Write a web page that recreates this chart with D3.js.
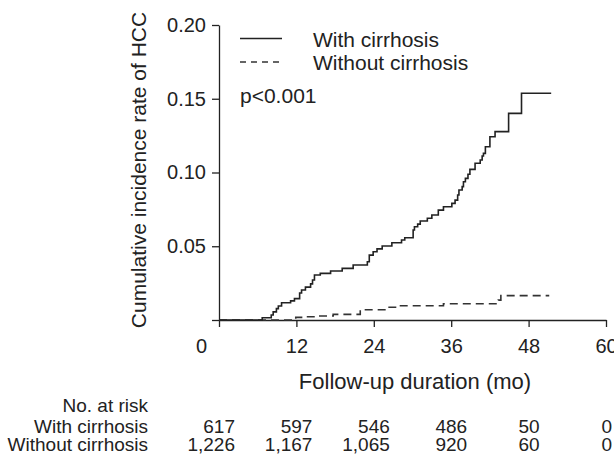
<!DOCTYPE html>
<html>
<head>
<meta charset="utf-8">
<script src="https://cdn.jsdelivr.net/npm/d3@7"></script>
<style>
  body { margin: 0; background: #fff; }
  svg { display: block; font-family: "Liberation Sans", Arial, sans-serif; }
</style>
</head>
<body>
<script>
// step points [month, cumulative incidence after the step]
var withCirrhosis = [
  [0, 0], [6.7, 0.0015], [8.1, 0.0034], [8.4, 0.0055], [8.9, 0.0077], [9.2, 0.0095],
  [9.7, 0.0117], [11.1, 0.013], [11.7, 0.0145], [12.5, 0.0183], [12.8, 0.0203],
  [13.4, 0.0223], [14.2, 0.0245], [14.5, 0.0271], [14.8, 0.0305], [15.7, 0.0316],
  [17.3, 0.0332], [19.1, 0.035], [20.8, 0.0373], [23.0, 0.0395], [23.3, 0.044],
  [23.9, 0.0463], [24.5, 0.0482], [25.3, 0.0502], [26.8, 0.0524], [28.3, 0.0542],
  [28.8, 0.0558], [30.1, 0.061], [30.3, 0.0632], [30.8, 0.065], [31.2, 0.0671],
  [32.3, 0.069], [33.0, 0.0712], [34.0, 0.0745], [34.8, 0.0768], [36.1, 0.0791],
  [36.6, 0.0813], [37.0, 0.0847], [37.2, 0.0881], [37.7, 0.0904], [37.9, 0.0937],
  [38.2, 0.096], [38.6, 0.0988], [38.9, 0.1021], [39.7, 0.1063], [40.5, 0.1085],
  [40.8, 0.1112], [41.0, 0.113], [41.3, 0.1175], [42.0, 0.1242], [42.8, 0.1277],
  [44.9, 0.1401], [46.9, 0.1537], [51.5, 0.1537]
];
var withoutCirrhosis = [
  [0, 0], [11.9, 0.0018], [13.3, 0.0022], [15.2, 0.0027], [17.7, 0.0038],
  [21.9, 0.007], [26.1, 0.0086], [28.0, 0.0097], [34.8, 0.011], [43.3, 0.0135],
  [43.7, 0.0165], [51.2, 0.0165]
];

var xTicks = [0, 12, 24, 36, 48, 60];
var yTicks = [0, 0.05, 0.10, 0.15, 0.20];
var riskLabels = ['With cirrhosis', 'Without cirrhosis'];
var riskWith = [617, 597, 546, 486, 50, 0];
var riskWithout = [1226, 1167, 1065, 920, 60, 0];

var width = 614, height = 454;

var svg = d3.select('body')
  .append('svg')
  .attr('width', width)
  .attr('height', height);

var x = d3.scaleLinear().domain([0, 60]).range([219, 606]);
var y = d3.scaleLinear().domain([0, 0.2]).range([320, 25]);

// axes
var xAxis = svg.append('g')
  .attr('transform', 'translate(0,' + y(0) + ')')
  .call(d3.axisBottom(x).tickValues(xTicks).tickSize(7).tickSizeOuter(0).tickPadding(12));

var yAxis = svg.append('g')
  .attr('transform', 'translate(' + x(0) + ',0)')
  .call(d3.axisLeft(y).tickValues(yTicks).tickSize(7).tickSizeOuter(0).tickPadding(6)
    .tickFormat(function(d) { return d === 0 ? '' : d3.format('.2f')(d); }));

[xAxis, yAxis].forEach(function(g) {
  g.selectAll('path, line').attr('stroke', '#222').attr('stroke-width', 1.3);
  g.selectAll('text')
    .attr('fill', '#222')
    .attr('font-size', '20px')
    .attr('font-family', '"Liberation Sans", Arial, sans-serif');
});

// the "0" sits left of the origin
xAxis.selectAll('.tick')
  .filter(function(d) { return d === 0; })
  .select('text')
  .attr('x', -18);

// curves
var line = d3.line()
  .x(function(d) { return x(d[0]); })
  .y(function(d) { return y(d[1]); })
  .curve(d3.curveStepAfter);

svg.append('path')
  .datum(withoutCirrhosis)
  .attr('d', line)
  .attr('fill', 'none')
  .attr('stroke', '#333')
  .attr('stroke-width', 1.6)
  .attr('stroke-dasharray', '8,5');

svg.append('path')
  .datum(withCirrhosis)
  .attr('d', line)
  .attr('fill', 'none')
  .attr('stroke', '#222')
  .attr('stroke-width', 1.6);

// legend
svg.append('line')
  .attr('x1', 240).attr('x2', 282)
  .attr('y1', 38.5).attr('y2', 38.5)
  .attr('stroke', '#222').attr('stroke-width', 1.4);

svg.append('line')
  .attr('x1', 240).attr('x2', 282)
  .attr('y1', 62).attr('y2', 62)
  .attr('stroke', '#333').attr('stroke-width', 1.4)
  .attr('stroke-dasharray', '6,5');

svg.selectAll('.legend-text')
  .data(riskLabels)
  .enter()
  .append('text')
  .attr('class', 'legend-text')
  .attr('x', 313)
  .attr('y', function(d, i) { return 46.5 + i * 23.5; })
  .attr('font-size', '21px')
  .attr('fill', '#222')
  .text(function(d) { return d; });

svg.append('text')
  .attr('x', 240)
  .attr('y', 103)
  .attr('font-size', '21px')
  .attr('fill', '#222')
  .text('p<0.001');

// axis titles
svg.append('text')
  .attr('transform', 'translate(146,170) rotate(-90)')
  .attr('text-anchor', 'middle')
  .attr('font-size', '21px')
  .attr('fill', '#222')
  .text('Cumulative incidence rate of HCC');

svg.append('text')
  .attr('x', 415)
  .attr('y', 389)
  .attr('text-anchor', 'middle')
  .attr('font-size', '22px')
  .attr('fill', '#222')
  .text('Follow-up duration (mo)');

// number at risk table
var tableFont = '19px';
var rowY = [433, 451];
var colShift = [16, 16, 16, 16, 11, 6];

svg.append('text')
  .attr('x', 148)
  .attr('y', 412)
  .attr('text-anchor', 'end')
  .attr('font-size', tableFont)
  .attr('fill', '#222')
  .text('No. at risk');

svg.selectAll('.risk-label')
  .data(riskLabels)
  .enter()
  .append('text')
  .attr('class', 'risk-label')
  .attr('x', 148)
  .attr('y', function(d, i) { return rowY[i]; })
  .attr('text-anchor', 'end')
  .attr('font-size', tableFont)
  .attr('fill', '#222')
  .text(function(d) { return d; });

[riskWith, riskWithout].forEach(function(row, r) {
  svg.selectAll('.risk-row-' + r)
    .data(row)
    .enter()
    .append('text')
    .attr('class', 'risk-row-' + r)
    .attr('x', function(d, i) { return x(xTicks[i]) + colShift[i]; })
    .attr('y', rowY[r])
    .attr('text-anchor', 'end')
    .attr('font-size', tableFont)
    .attr('fill', '#222')
    .text(function(d) { return d3.format(',')(d); });
});
</script>
</body>
</html>
